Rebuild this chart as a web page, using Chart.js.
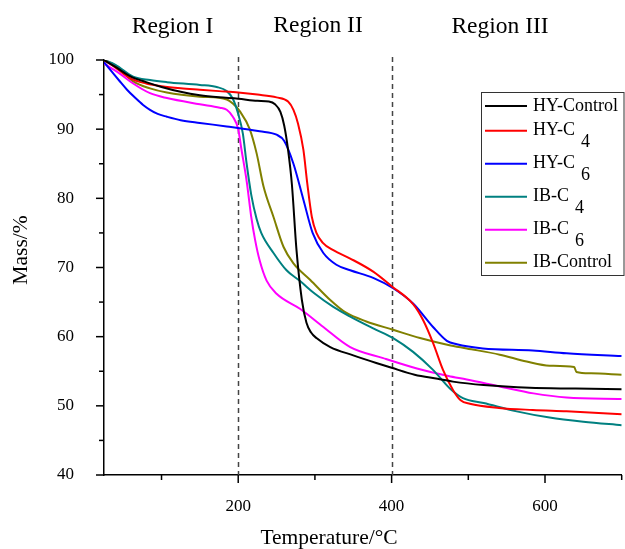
<!DOCTYPE html>
<html>
<head>
<meta charset="utf-8">
<script src="https://cdn.jsdelivr.net/npm/chart.js@4.4.0/dist/chart.umd.min.js"></script>
<style>
  html, body { margin: 0; padding: 0; background: #ffffff; }
  #wrap { width: 625px; height: 549px; position: relative; }
</style>
</head>
<body>
<div id="wrap"><canvas id="c" width="625" height="549"></canvas></div>
<script>
// ---- data ----
const seriesNames = ['HY-Control', 'HY-C', 'HY-C', 'IB-C', 'IB-C', 'IB-Control'];
const seriesSubs  = ['', '4', '6', '4', '6', ''];
const seriesColors = ['#000000', '#ff0000', '#0000ff', '#008080', '#ff00ff', '#808000'];

const hyControlT = [25,40,60,80,100,125,150,175,200,225,240,248,255,260,265,270,276,283,289,295,302,320,350,380,400,430,460,480,520,580,640,700];
const hyControlM = [100,99.0,97.6,96.8,96.1,95.4,94.9,94.6,94.4,94.1,94.0,93.6,92.5,90.5,87.0,82.0,72.5,65.3,62.0,60.6,59.8,58.5,57.3,56.2,55.5,54.5,53.9,53.5,53.0,52.6,52.5,52.4];

const hyC4T = [25,40,60,80,100,125,150,175,200,225,250,265,272,278,285,290,296,302,310,324,346,376,400,428,441,454,467,480,490,502,540,584,628,700];
const hyC4M = [100,98.9,97.3,96.6,96.2,95.9,95.7,95.5,95.3,95.0,94.6,94.0,92.8,90.8,87.0,82.2,77.3,75.0,73.6,72.5,71.3,69.4,67.3,64.7,62.4,59.1,55.2,52.3,50.8,50.3,49.7,49.4,49.2,48.8];

const hyC6T = [25,33,45,55,65,76,85,95,107,125,150,185,228,250,260,272,285,297,311,328,346,376,402,428,454,472,485,519,584,628,700];
const hyC6M = [99.7,98.6,97.0,95.7,94.6,93.5,92.8,92.2,91.8,91.3,90.9,90.4,89.7,89.2,88.3,85.0,79.8,75.0,72.1,70.4,69.6,68.5,67.0,64.8,61.4,59.4,58.9,58.3,58.0,57.6,57.2];

const ibC4T = [25,40,63,85,107,150,172,185,193,200,206,211,217,224,230,246,263,281,300,324,346,376,402,428,454,476,493,520,563,606,650,700];
const ibC4M = [100,99.3,97.6,97.1,96.8,96.4,96.1,95.5,94.4,92.2,89.4,85.0,80.5,77.0,75.0,72.1,69.6,68.0,66.2,64.3,62.9,61.2,59.8,57.8,55.2,52.5,51.1,50.4,49.2,48.3,47.7,47.2];

const ibC6T = [25,35,46,63,85,107,150,176,185,193,200,204,211,217,222,228,237,250,281,311,346,389,433,474,498,541,585,628,700];
const ibC6M = [99.5,98.8,98.0,96.6,95.2,94.5,93.6,93.1,92.8,91.8,90.0,87.2,82.5,77.3,74.0,71.0,68.1,66.2,64.0,61.4,58.5,56.9,55.4,54.3,53.8,52.8,51.8,51.2,51.0];

const ibControlT = [25,40,63,85,107,150,185,193,202,215,224,233,246,259,272,294,320,340,367,402,437,474,498,541,576,606,638,641,660,700];
const ibControlM = [100,99.2,96.9,95.9,95.3,94.7,94.3,93.7,92.6,90.0,86.5,81.7,77.3,73.0,70.6,68.2,65.3,63.5,62.2,61.0,59.8,58.8,58.3,57.4,56.4,55.8,55.6,54.9,54.7,54.5];

const xTickValues = [100, 200, 300, 400, 500, 600, 700];
const xLabelValues = [200, 400, 600];
const regionBounds = [200, 400];
const regionLabels = ['Region I', 'Region II', 'Region III'];

const xTitle = 'Temperature/°C';
const yTitle = 'Mass/%';

// ---- build datasets ----
const seriesT = [hyControlT, hyC4T, hyC6T, ibC4T, ibC6T, ibControlT];
const seriesM = [hyControlM, hyC4M, hyC6M, ibC4M, ibC6M, ibControlM];

const datasets = seriesNames.map((n, i) => ({
  label: n + seriesSubs[i],
  data: seriesT[i].map((t, k) => ({ x: t, y: seriesM[i][k] })),
  borderColor: seriesColors[i],
  backgroundColor: seriesColors[i],
  borderWidth: 2,
  pointRadius: 0,
  fill: false,
  cubicInterpolationMode: 'monotone'
}));

const SERIF = '"Liberation Serif", "Times New Roman", serif';

const decorPlugin = {
  id: 'decor',
  beforeDatasetsDraw(chart) {
    const ctx = chart.ctx, xs = chart.scales.x, area = chart.chartArea;
    ctx.save();
    ctx.strokeStyle = '#444444';
    ctx.lineWidth = 1.5;
    ctx.setLineDash([5, 4]);
    regionBounds.forEach(v => {
      const px = Math.round(xs.getPixelForValue(v)) + 0.5;
      ctx.beginPath();
      ctx.moveTo(px, area.top - 3);
      ctx.lineTo(px, area.bottom);
      ctx.stroke();
    });
    ctx.restore();
  },
  afterDraw(chart) {
    const ctx = chart.ctx, xs = chart.scales.x, ys = chart.scales.y, area = chart.chartArea;
    ctx.save();
    // tick marks (outward, major longer)
    ctx.strokeStyle = '#000';
    ctx.lineWidth = 1.5;
    for (let v = 40; v <= 100; v += 5) {
      const py = ys.getPixelForValue(v);
      const len = (v % 10 === 0) ? 8 : 5;
      ctx.beginPath();
      ctx.moveTo(area.left - len, py);
      ctx.lineTo(area.left, py);
      ctx.stroke();
    }
    xTickValues.forEach(v => {
      const px = xs.getPixelForValue(v);
      const len = (v % 200 === 0) ? 8 : 5;
      ctx.beginPath();
      ctx.moveTo(px, area.bottom);
      ctx.lineTo(px, area.bottom + len);
      ctx.stroke();
    });

    // region labels
    ctx.fillStyle = '#000';
    ctx.font = '23.5px ' + SERIF;
    ctx.textAlign = 'center';
    ctx.textBaseline = 'alphabetic';
    ctx.fillText(regionLabels[0], 172.5, 33);
    ctx.fillText(regionLabels[1], 318, 32);
    ctx.fillText(regionLabels[2], 500, 33);

    // axis titles
    ctx.font = '21.5px ' + SERIF;
    ctx.textBaseline = 'middle';
    ctx.fillText(xTitle, 329, 538);
    ctx.save();
    ctx.translate(21, 250);
    ctx.rotate(-Math.PI / 2);
    ctx.fillText(yTitle, 0, 0);
    ctx.restore();

    // legend
    const bx = 481, by = 92, bw = 142.5, bh = 183;
    ctx.fillStyle = '#fff';
    ctx.fillRect(bx, by, bw, bh);
    ctx.strokeStyle = '#333';
    ctx.lineWidth = 1;
    ctx.setLineDash([]);
    ctx.strokeRect(bx + 0.5, by + 0.5, bw, bh);
    ctx.font = '18px ' + SERIF;
    ctx.textAlign = 'left';
    ctx.textBaseline = 'middle';
    let y = 106;
    chart.data.datasets.forEach((ds, i) => {
      if (i > 0) y += seriesSubs[i - 1] ? 33 : 24.7;
      ctx.strokeStyle = ds.borderColor;
      ctx.lineWidth = 2;
      ctx.beginPath();
      ctx.moveTo(485, y);
      ctx.lineTo(527, y);
      ctx.stroke();
      ctx.fillStyle = '#000';
      ctx.fillText(seriesNames[i], 533, y);
      if (seriesSubs[i]) {
        const w = ctx.measureText(seriesNames[i]).width;
        ctx.fillText(seriesSubs[i], 533 + w + 6, y + 11.5);
      }
    });
    ctx.restore();
  }
};

new Chart(document.getElementById('c'), {
  type: 'line',
  data: { datasets },
  options: {
    responsive: false,
    animation: false,
    devicePixelRatio: 1,
    layout: { padding: { top: 60, right: 3.3, left: 0, bottom: 0 } },
    plugins: { legend: { display: false }, tooltip: { enabled: false } },
    scales: {
      x: {
        type: 'linear',
        min: 25,
        max: 700,
        afterBuildTicks(scale) { scale.ticks = xTickValues.map(v => ({ value: v })); },
        afterFit(scale) { scale.height = 74; scale.paddingLeft = 0; scale.paddingRight = 0; },
        grid: { display: false, drawTicks: false },
        border: { display: true, color: '#000', width: 1.5 },
        ticks: {
          autoSkip: false,
          maxRotation: 0,
          padding: 21,
          color: '#000',
          font: { family: SERIF, size: 17 },
          callback: v => xLabelValues.includes(v) ? String(v) : ''
        }
      },
      y: {
        min: 40,
        max: 100,
        afterFit(scale) { scale.width = 104; scale.paddingTop = 0; scale.paddingBottom = 0; },
        grid: { display: false, drawTicks: false },
        border: { display: true, color: '#000', width: 1.5 },
        ticks: {
          stepSize: 5,
          autoSkip: false,
          padding: 30,
          color: '#000',
          font: { family: SERIF, size: 17 },
          callback: v => (v % 10 === 0) ? String(v) : ''
        }
      }
    }
  },
  plugins: [decorPlugin]
});
</script>
</body>
</html>
